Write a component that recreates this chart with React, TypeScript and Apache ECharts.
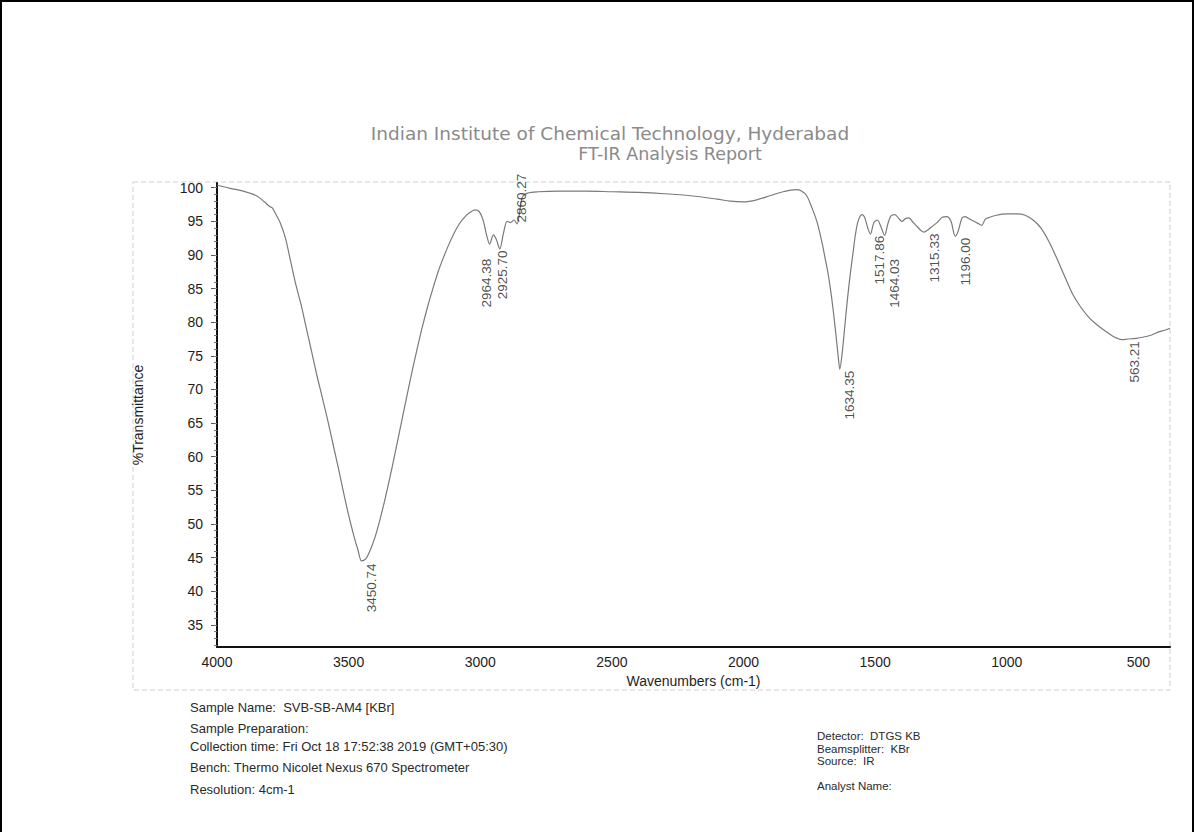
import React, { useEffect, useRef } from "react";
import * as echarts from "echarts";

// FT-IR spectrum: wavenumber (cm-1) against %Transmittance
const wavenumbers = [
  4000, 3950, 3900, 3850, 3820, 3800, 3790, 3780, 3760, 3740, 3720, 3700, 3680, 3660, 3640, 3620,
  3600, 3580, 3560, 3540, 3520, 3500, 3480, 3465, 3450.74, 3435, 3420, 3400, 3380, 3360, 3340, 3320,
  3300, 3280, 3260, 3240, 3220, 3200, 3180, 3160, 3140, 3120, 3100, 3080, 3060, 3040, 3020, 3005,
  2990, 2975, 2964.38, 2950, 2940, 2925.7, 2912, 2898, 2885, 2872, 2860.27, 2850, 2840, 2820, 2780,
  2700, 2600, 2500, 2400, 2300, 2200, 2100, 2050, 2000, 1950, 1900, 1850, 1800, 1780, 1760, 1740,
  1720, 1700, 1690, 1680, 1670, 1660, 1650, 1640, 1634.35, 1625, 1615, 1605, 1595, 1585, 1575, 1565,
  1550, 1540, 1528, 1517.86, 1505, 1492, 1478, 1464.03, 1452, 1440, 1425, 1410, 1398, 1385, 1372,
  1355, 1340, 1325, 1315.33, 1300, 1285, 1265, 1245, 1228, 1212, 1196, 1185, 1170, 1158, 1140, 1125,
  1110, 1095, 1082, 1065, 1040, 1000, 960, 930, 900, 870, 840, 810, 780, 750, 720, 690, 660, 630,
  600, 580, 563.21, 540, 510, 480, 450, 420, 400, 380,
];

const transmittance = [
  100.4, 99.9, 99.5, 98.8, 97.9, 97.2, 97.0, 96.3, 94.8, 92.5, 89.0, 85.5, 82.5, 79.0, 75.5, 72.0,
  68.8, 65.5, 62.0, 58.5, 54.8, 51.3, 48.2, 46.2, 44.5, 44.8, 45.9, 48.0, 50.8, 54.0, 57.5, 61.2,
  65.0, 68.8, 72.5, 76.0, 79.3, 82.3, 85.0, 87.5, 89.6, 91.5, 93.2, 94.6, 95.6, 96.3, 96.7, 96.5,
  95.3, 92.8, 91.6, 93.0, 92.4, 90.9, 93.2, 95.0, 94.8, 95.2, 94.6, 96.5, 98.6, 99.2, 99.4,
  99.5, 99.5, 99.4, 99.3, 99.1, 98.8, 98.3, 98.0, 97.9, 98.2, 98.8, 99.4, 99.7, 99.5, 98.8, 97.0,
  94.8, 91.5, 89.5, 87.5, 85.0, 82.0, 78.5, 74.8, 73.0, 75.5, 79.5, 83.5, 87.0, 90.0, 93.0, 95.0,
  96.0, 95.6, 94.0, 93.1, 94.8, 95.2, 94.2, 92.9, 94.6, 95.8, 96.0, 95.4, 95.0, 95.4, 95.5,
  94.8, 94.2, 93.6, 93.4, 93.7, 94.2, 94.8, 95.6, 95.7, 95.0, 92.8, 93.5, 95.5, 95.7, 95.3, 95.0,
  94.7, 94.4, 95.3, 95.6, 95.9, 96.1, 96.1, 95.9, 95.2, 94.0, 92.0, 89.5, 86.8, 84.2, 82.3, 80.8, 79.7, 78.8,
  78.0, 77.6, 77.4, 77.5, 77.6, 77.8, 78.1, 78.6, 78.8, 79.1,
];

// Picked peaks (wavenumbers printed under each band)
const peakWavenumbers = [3450.74, 2964.38, 2925.7, 2860.27, 1634.35, 1517.86, 1464.03, 1315.33, 1196.0, 563.21];

const xTickValues = [4000, 3500, 3000, 2500, 2000, 1500, 1000, 500];
const yTickValues = [35, 40, 45, 50, 55, 60, 65, 70, 75, 80, 85, 90, 95, 100];
const yMinorTickValues = Array.from({ length: 69 }, (_, i) => 32 + i);

const titleLines = ["Indian Institute of Chemical Technology, Hyderabad", "FT-IR Analysis Report"];
const sampleInfo = [
  "Sample Name:  SVB-SB-AM4 [KBr]",
  "Sample Preparation:",
  "Collection time: Fri Oct 18 17:52:38 2019 (GMT+05:30)",
  "Bench: Thermo Nicolet Nexus 670 Spectrometer",
  "Resolution: 4cm-1",
];
const instrumentInfo = ["Detector:  DTGS KB", "Beamsplitter:  KBr", "Source:  IR", "Analyst Name:"];

// label placement (pixel offsets from the band minimum); "up" labels grow upward
const peakLabelPlacement: Record<string, { dx: number; dy: number; up?: boolean }> = {
  "3450.74": { dx: 10, dy: 3 },
  "2964.38": { dx: -3, dy: 15 },
  "2925.70": { dx: 3, dy: 2 },
  "2860.27": { dx: 5, dy: -1, up: true },
  "1634.35": { dx: 10, dy: 2 },
  "1517.86": { dx: 10, dy: 2 },
  "1464.03": { dx: 10, dy: 24 },
  "1315.33": { dx: 11, dy: 2 },
  "1196.00": { dx: 11, dy: 2 },
  "563.21": { dx: 13, dy: 2 },
};

const FONT = "'Liberation Sans', Arial, sans-serif";
const sampleY = [707, 728, 746, 767, 789];
const instrumentY = [736, 748.5, 761, 786];

function buildOption() {
  const spectrum = wavenumbers.map((w, i) => [w, transmittance[i]]);
  const peaks = peakWavenumbers.map((w) => {
    const idx = wavenumbers.indexOf(w);
    const name = w.toFixed(2);
    const p = peakLabelPlacement[name];
    return {
      name,
      value: [w, transmittance[idx]],
      label: {
        position: [p.dx, p.dy],
        align: p.up ? "left" : "right",
      },
    };
  });

  const graphic: any[] = [
    {
      type: "rect",
      silent: true,
      shape: { x: 1, y: 1, width: 1192, height: 845 },
      style: { fill: "none", stroke: "#000", lineWidth: 2 },
    },
    {
      type: "rect",
      silent: true,
      shape: { x: 133, y: 182, width: 1037, height: 508 },
      style: { fill: "none", stroke: "#cfcfcf", lineWidth: 1, lineDash: [5, 3] },
    },
    {
      type: "text",
      x: 610,
      y: 133,
      style: {
        text: titleLines[0],
        fill: "#8a8a8a",
        font: "18.5px 'DejaVu Sans', sans-serif",
        textAlign: "center",
        textVerticalAlign: "middle",
      },
    },
    {
      type: "text",
      x: 670,
      y: 154,
      style: {
        text: titleLines[1],
        fill: "#8a8a8a",
        font: "17.5px 'DejaVu Sans', sans-serif",
        textAlign: "center",
        textVerticalAlign: "middle",
      },
    },
  ];
  sampleInfo.forEach((t, i) =>
    graphic.push({
      type: "text",
      x: 190,
      y: sampleY[i],
      style: { text: t, fill: "#2a2a2a", font: `13px ${FONT}`, textVerticalAlign: "middle" },
    })
  );
  instrumentInfo.forEach((t, i) =>
    graphic.push({
      type: "text",
      x: 817,
      y: instrumentY[i],
      style: { text: t, fill: "#2a2a2a", font: `11.5px ${FONT}`, textVerticalAlign: "middle" },
    })
  );

  return {
    animation: false,
    backgroundColor: "#ffffff",
    grid: { left: 217, right: 25, top: 183, bottom: 185, outerBoundsMode: "none" },
    xAxis: {
      type: "value",
      inverse: true,
      min: 380,
      max: 4000,
      name: "Wavenumbers (cm-1)",
      nameLocation: "middle",
      nameGap: 26,
      nameTextStyle: { fontFamily: FONT, fontSize: 14, color: "#1e1e1e" },
      axisLine: { show: true, lineStyle: { color: "#111", width: 2 } },
      axisTick: { show: false },
      splitLine: { show: false },
      axisLabel: {
        customValues: xTickValues,
        formatter: (v: number) => String(v),
        margin: 8,
        fontFamily: FONT,
        fontSize: 14,
        color: "#1e1e1e",
      },
    },
    yAxis: [
      {
        type: "value",
        min: 31.7,
        max: 100.7,
        name: "%Transmittance",
        nameLocation: "middle",
        nameGap: 72,
        nameTextStyle: { fontFamily: FONT, fontSize: 14, color: "#1e1e1e" },
        axisLine: { show: true, lineStyle: { color: "#111", width: 2 } },
        axisTick: { show: true, customValues: yTickValues, length: 6, lineStyle: { color: "#555" } },
        splitLine: { show: false },
        axisLabel: {
          customValues: yTickValues,
          formatter: (v: number) => String(v),
          margin: 14,
          fontFamily: FONT,
          fontSize: 14,
          color: "#1e1e1e",
        },
      },
      {
        type: "value",
        min: 31.7,
        max: 100.7,
        position: "left",
        axisLine: { show: false },
        axisTick: { show: true, customValues: yMinorTickValues, length: 3, lineStyle: { color: "#777" } },
        axisLabel: { show: false },
        splitLine: { show: false },
      },
    ],
    series: [
      {
        type: "line",
        data: spectrum,
        showSymbol: false,
        smooth: 0.3,
        lineStyle: { color: "#7a7a7a", width: 1.2 },
        silent: true,
        z: 2,
      },
      {
        type: "scatter",
        data: peaks,
        symbolSize: 1,
        itemStyle: { color: "rgba(0,0,0,0)" },
        silent: true,
        z: 3,
        label: {
          show: true,
          formatter: (p: any) => p.name,
          rotate: 90,
          verticalAlign: "middle",
          fontFamily: FONT,
          fontSize: 13.5,
          color: "#222",
        },
      },
    ],
    graphic,
  };
}

export default function App() {
  const ref = useRef<HTMLDivElement>(null);
  useEffect(() => {
    if (!ref.current) return;
    const chart = echarts.init(ref.current, null, { renderer: "svg" });
    chart.setOption(buildOption() as any);
    return () => chart.dispose();
  }, []);
  return (
    <div
      ref={ref}
      style={{ position: "absolute", left: 0, top: 0, width: 1195, height: 832, background: "#fff" }}
    />
  );
}
